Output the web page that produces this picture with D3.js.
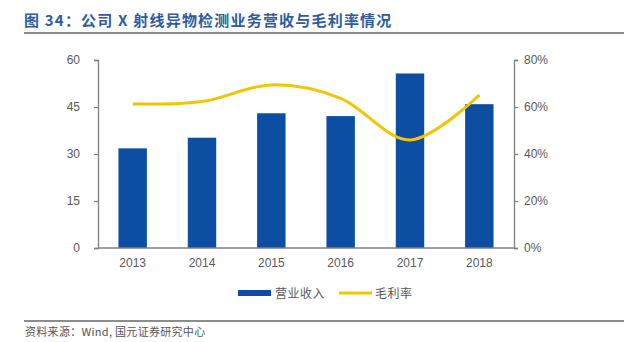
<!DOCTYPE html>
<html><head><meta charset="utf-8">
<script src="https://cdn.jsdelivr.net/npm/d3@7"></script>
<style>
html,body{margin:0;padding:0;background:#fff;}
svg{display:block;}
text{font-family:"Liberation Sans","DejaVu Sans",sans-serif;}
.cjk{font-family:"Noto Sans CJK SC","Noto Sans",sans-serif;}
</style></head>
<body>
<svg id="c" width="630" height="342"></svg>
<script>
const categories = ["2013","2014","2015","2016","2017","2018"];
const revenue = [31.8, 35.2, 43.0, 42.1, 55.7, 45.9];
const grossMargin = [0.613, 0.623, 0.694, 0.637, 0.46, 0.651];
const leftTicks = [0, 15, 30, 45, 60];
const rightTicks = [0, 0.2, 0.4, 0.6, 0.8];
const titleText = "图 34：公司 X 射线异物检测业务营收与毛利率情况";
const sourceText = "资料来源：Wind, 国元证券研究中心";
const legendLabels = ["营业收入", "毛利率"];

const svg = d3.select("#c");
const L = 98, R = 514, T = 60, B = 248;
const blue = "#0B4EA2", yellow = "#F2C500", gray = "#808080", txt = "#595959";

// title
svg.append("text").attr("class","cjk").attr("x",24).attr("y",26)
  .attr("font-size",15).attr("font-weight","bold").attr("letter-spacing",1.2)
  .attr("fill","#2E5C9E").text(titleText);
svg.append("line").attr("x1",24).attr("x2",624).attr("y1",33).attr("y2",33)
  .attr("stroke","#8c8c8c").attr("stroke-width",2);

const x = d3.scaleBand().domain(categories).range([L,R]).paddingInner(0.59).paddingOuter(0.295);
const y = d3.scaleLinear().domain([0,60]).range([B,T]);
const y2 = d3.scaleLinear().domain([0,0.8]).range([B,T]);

// bars
svg.append("g").selectAll("rect").data(revenue).join("rect")
  .attr("x",(d,i)=>x(categories[i])).attr("width",x.bandwidth())
  .attr("y",d=>y(d)).attr("height",d=>B-y(d)).attr("fill",blue);

// left axis
const ga = svg.append("g").attr("transform",`translate(${L},0)`)
  .call(d3.axisLeft(y).tickValues(leftTicks).tickSize(4).tickPadding(14));
// right axis
const gr = svg.append("g").attr("transform",`translate(${R},0)`)
  .call(d3.axisRight(y2).tickValues(rightTicks).tickSize(4).tickPadding(6).tickFormat(d3.format(".0%")));
// bottom axis
const gb = svg.append("g").attr("transform",`translate(0,${B})`)
  .call(d3.axisBottom(x).tickSize(0).tickPadding(10).tickSizeOuter(0));
[ga,gr,gb].forEach(g=>{
  g.selectAll("path,line").attr("stroke",gray).attr("stroke-width",1.3);
  g.selectAll("text").attr("fill",txt).attr("font-size",12);
});
gb.select("path").attr("d",`M${L},0H${R}`);

// line
const line = d3.line().x((d,i)=>x(categories[i])+x.bandwidth()/2).y(d=>y2(d)).curve(d3.curveCatmullRom.alpha(0));
svg.append("path").datum(grossMargin).attr("d",line).attr("fill","none")
  .attr("stroke",yellow).attr("stroke-width",3);

// legend
const lg = svg.append("g");
lg.append("rect").attr("x",238).attr("y",290).attr("width",33).attr("height",6).attr("fill",blue);
lg.append("text").attr("class","cjk").attr("x",275).attr("y",297.5).attr("font-size",12).attr("letter-spacing",0.5).attr("fill",txt).text(legendLabels[0]);
lg.append("line").attr("x1",339).attr("x2",372).attr("y1",293).attr("y2",293).attr("stroke",yellow).attr("stroke-width",3);
lg.append("text").attr("class","cjk").attr("x",375).attr("y",297.5).attr("font-size",12).attr("letter-spacing",0.5).attr("fill",txt).text(legendLabels[1]);

// footer
svg.append("line").attr("x1",24).attr("x2",624).attr("y1",321).attr("y2",321)
  .attr("stroke","#8c8c8c").attr("stroke-width",2);
svg.append("text").attr("class","cjk").attr("x",25).attr("y",336).attr("font-size",11).attr("letter-spacing",0.3).attr("fill","#555").text(sourceText);
</script>
</body></html>
